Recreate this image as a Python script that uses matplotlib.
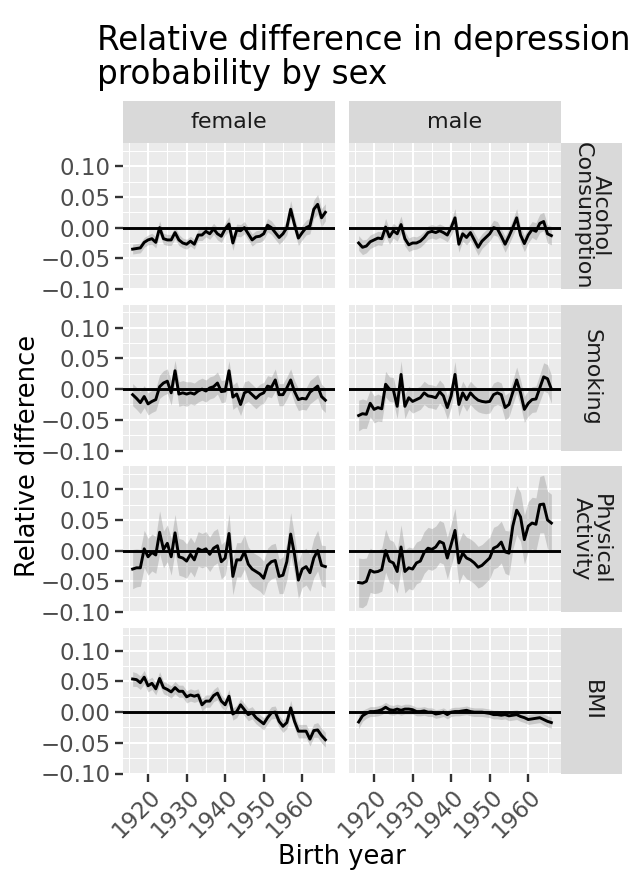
import matplotlib
matplotlib.use("Agg")
import matplotlib.pyplot as plt
from matplotlib.transforms import ScaledTranslation

plt.rcParams["font.family"] = ["DejaVu Sans"]

# birth years 1916..1966
years = list(range(1916, 1967))
sexes = ["female", "male"]
factors = ["Alcohol\nConsumption", "Smoking", "Physical\nActivity", "BMI"]

# Alcohol consumption
alc_f = [-0.035, -0.034, -0.033, -0.024, -0.02, -0.018, -0.024, 0.0, -0.018, -0.02,
         -0.02, -0.008, -0.02, -0.025, -0.027, -0.022, -0.027, -0.012, -0.012, -0.006,
         -0.01, -0.002, -0.01, -0.014, -0.002, 0.006, -0.025, -0.004, -0.005, 0.0,
         -0.01, -0.02, -0.015, -0.014, -0.01, 0.004, 0.0, -0.008, -0.016, -0.01,
         0.0, 0.03, 0.005, -0.017, -0.008, 0.0, 0.003, 0.03, 0.038, 0.016, 0.025]
alc_f_hw = [0.008, 0.008, 0.008, 0.008, 0.008, 0.009, 0.009, 0.011, 0.009, 0.009,
            0.009, 0.01, 0.009, 0.008, 0.008, 0.008, 0.008, 0.009, 0.009, 0.009,
            0.009, 0.009, 0.01, 0.01, 0.01, 0.012, 0.012, 0.01, 0.01, 0.01,
            0.01, 0.01, 0.01, 0.01, 0.01, 0.011, 0.011, 0.011, 0.011, 0.011,
            0.012, 0.014, 0.012, 0.012, 0.012, 0.012, 0.013, 0.015, 0.016, 0.015, 0.014]
alc_m = [-0.025, -0.032, -0.03, -0.023, -0.02, -0.017, -0.018, 0.001, -0.015, -0.005,
         -0.01, 0.005, -0.018, -0.028, -0.025, -0.025, -0.022, -0.016, -0.008, -0.006,
         -0.008, -0.005, -0.008, -0.012, 0.0, 0.016, -0.027, -0.01, -0.016, -0.008,
         -0.02, -0.032, -0.022, -0.016, -0.01, 0.0, -0.002, -0.014, -0.027, -0.014,
         0.0, 0.016, -0.012, -0.026, -0.012, -0.003, -0.006, 0.007, 0.01, -0.01, -0.013]
alc_m_hw = [0.012, 0.012, 0.011, 0.011, 0.011, 0.011, 0.011, 0.014, 0.012, 0.012,
            0.012, 0.014, 0.012, 0.011, 0.011, 0.01, 0.01, 0.01, 0.011, 0.011,
            0.011, 0.011, 0.011, 0.011, 0.012, 0.015, 0.013, 0.012, 0.012, 0.012,
            0.012, 0.013, 0.012, 0.012, 0.012, 0.012, 0.012, 0.012, 0.013, 0.013,
            0.013, 0.015, 0.013, 0.013, 0.013, 0.013, 0.014, 0.015, 0.015, 0.015, 0.015]

# Smoking
smk_f = [-0.009, -0.015, -0.022, -0.012, -0.024, -0.02, -0.017, 0.004, 0.01, 0.013,
         -0.006, 0.03, -0.008, -0.006, -0.008, -0.006, -0.008, -0.003, 0.0, -0.003,
         0.002, 0.004, 0.01, -0.004, -0.003, 0.03, -0.013, -0.008, -0.025, -0.006,
         -0.003, -0.009, -0.015, -0.009, -0.006, 0.005, 0.003, 0.015, -0.009, -0.009,
         0.002, 0.015, -0.004, -0.017, -0.015, -0.016, -0.005, 0.0, 0.005, -0.012, -0.018]
smk_f_hw = [0.018, 0.018, 0.018, 0.018, 0.018, 0.018, 0.018, 0.019, 0.02, 0.02,
            0.02, 0.017, 0.02, 0.02, 0.02, 0.018, 0.018, 0.018, 0.018, 0.018,
            0.018, 0.018, 0.018, 0.018, 0.018, 0.016, 0.02, 0.02, 0.018, 0.018,
            0.017, 0.017, 0.017, 0.017, 0.017, 0.017, 0.017, 0.018, 0.018, 0.018,
            0.018, 0.018, 0.018, 0.018, 0.018, 0.018, 0.019, 0.019, 0.019, 0.02, 0.02]
smk_m = [-0.043, -0.04, -0.041, -0.023, -0.033, -0.03, -0.032, 0.008, 0.0, -0.001,
         -0.028, 0.024, -0.028, -0.014, -0.02, -0.017, -0.014, -0.006, -0.011, -0.012,
         -0.014, -0.004, -0.011, -0.03, -0.011, 0.024, -0.025, -0.006, -0.017, -0.006,
         -0.013, -0.018, -0.02, -0.021, -0.02, -0.009, -0.006, -0.009, -0.03, -0.025,
         -0.005, 0.015, -0.006, -0.033, -0.023, -0.017, -0.016, 0.002, 0.02, 0.017, 0.0]
smk_m_hw = [0.025, 0.024, 0.023, 0.022, 0.022, 0.022, 0.021, 0.021, 0.02, 0.02,
            0.02, 0.022, 0.02, 0.019, 0.019, 0.019, 0.019, 0.019, 0.019, 0.019,
            0.019, 0.019, 0.019, 0.019, 0.019, 0.021, 0.019, 0.019, 0.019, 0.019,
            0.019, 0.019, 0.019, 0.019, 0.019, 0.019, 0.019, 0.019, 0.02, 0.02,
            0.02, 0.021, 0.021, 0.021, 0.021, 0.021, 0.021, 0.022, 0.023, 0.023, 0.023]

# Physical activity
pa_f = [-0.03, -0.028, -0.028, 0.003, -0.01, -0.003, -0.007, 0.03, 0.002, 0.012,
        -0.01, 0.029, -0.01, -0.012, -0.017, -0.006, -0.015, 0.003, 0.0, 0.003,
        -0.006, 0.004, 0.008, -0.018, -0.012, 0.028, -0.042, -0.015, -0.015, -0.002,
        -0.022, -0.03, -0.034, -0.038, -0.045, -0.024, -0.018, -0.016, -0.042, -0.04,
        -0.018, 0.027, -0.006, -0.048, -0.03, -0.026, -0.036, -0.012, 0.0, -0.024, -0.026]
pa_f_hw = [0.032, 0.031, 0.03, 0.03, 0.03, 0.03, 0.03, 0.035, 0.03, 0.03,
           0.03, 0.03, 0.03, 0.03, 0.028, 0.028, 0.028, 0.028, 0.028, 0.028,
           0.028, 0.028, 0.028, 0.028, 0.028, 0.032, 0.03, 0.028, 0.028, 0.028,
           0.028, 0.028, 0.028, 0.028, 0.028, 0.028, 0.028, 0.028, 0.028, 0.03,
           0.03, 0.035, 0.03, 0.03, 0.03, 0.03, 0.03, 0.032, 0.033, 0.033, 0.034]
pa_m = [-0.052, -0.053, -0.05, -0.032, -0.035, -0.034, -0.031, 0.0, -0.017, -0.02,
        -0.034, 0.006, -0.034, -0.028, -0.03, -0.02, -0.017, -0.003, 0.004, 0.002,
        0.006, 0.015, 0.012, -0.012, 0.01, 0.033, -0.02, -0.004, -0.012, -0.015,
        -0.02, -0.027, -0.024, -0.018, -0.012, 0.004, 0.007, 0.014, -0.002, -0.004,
        0.04, 0.066, 0.055, 0.018, 0.04, 0.045, 0.043, 0.075, 0.076, 0.05, 0.045]
pa_m_hw = [0.04, 0.04, 0.038, 0.036, 0.035, 0.035, 0.035, 0.035, 0.035, 0.035,
           0.035, 0.036, 0.035, 0.034, 0.034, 0.034, 0.034, 0.034, 0.034, 0.034,
           0.034, 0.034, 0.034, 0.034, 0.034, 0.036, 0.034, 0.034, 0.034, 0.034,
           0.034, 0.034, 0.034, 0.034, 0.034, 0.034, 0.034, 0.034, 0.035, 0.036,
           0.038, 0.04, 0.04, 0.04, 0.04, 0.042, 0.043, 0.046, 0.047, 0.047, 0.047]

# BMI
bmi_f = [0.054, 0.053, 0.048, 0.057, 0.043, 0.047, 0.038, 0.055, 0.04, 0.037,
         0.033, 0.04, 0.034, 0.034, 0.025, 0.028, 0.026, 0.028, 0.012, 0.018,
         0.018, 0.027, 0.031, 0.018, 0.012, 0.026, -0.003, 0.001, 0.012, 0.004,
         -0.004, -0.001, -0.009, -0.014, -0.019, -0.009, -0.001, 0.0, -0.015, -0.023,
         -0.017, 0.007, -0.015, -0.031, -0.031, -0.031, -0.044, -0.03, -0.029, -0.038, -0.045]
bmi_f_hw = [0.012, 0.011, 0.011, 0.011, 0.01, 0.01, 0.01, 0.011, 0.01, 0.01,
            0.01, 0.01, 0.01, 0.01, 0.01, 0.01, 0.01, 0.01, 0.01, 0.01,
            0.01, 0.01, 0.011, 0.01, 0.01, 0.011, 0.01, 0.01, 0.01, 0.01,
            0.01, 0.01, 0.01, 0.01, 0.01, 0.01, 0.01, 0.01, 0.01, 0.01,
            0.01, 0.012, 0.011, 0.011, 0.011, 0.011, 0.011, 0.011, 0.012, 0.012, 0.012]
bmi_m = [-0.016, -0.006, -0.002, 0.001, 0.001, 0.002, 0.004, 0.008, 0.004, 0.003,
         0.005, 0.003, 0.005, 0.005, 0.004, 0.001, 0.001, 0.002, 0.0, 0.0,
         -0.003, -0.002, 0.0, -0.004, 0.0, 0.001, 0.001, 0.002, 0.003, 0.001,
         0.0, 0.0, 0.0, -0.001, -0.002, -0.004, -0.004, -0.005, -0.004, -0.006,
         -0.005, -0.004, -0.007, -0.009, -0.012, -0.011, -0.01, -0.009, -0.012, -0.015, -0.017]
bmi_m_hw = [0.011, 0.009, 0.008, 0.008, 0.008, 0.008, 0.008, 0.008, 0.008, 0.008,
            0.008, 0.008, 0.008, 0.008, 0.007, 0.007, 0.007, 0.007, 0.007, 0.007,
            0.007, 0.007, 0.007, 0.007, 0.007, 0.007, 0.007, 0.007, 0.007, 0.007,
            0.007, 0.007, 0.007, 0.007, 0.007, 0.007, 0.007, 0.007, 0.007, 0.008,
            0.008, 0.008, 0.008, 0.008, 0.008, 0.008, 0.008, 0.008, 0.009, 0.009, 0.009]

series = [[(alc_f, alc_f_hw), (alc_m, alc_m_hw)],
          [(smk_f, smk_f_hw), (smk_m, smk_m_hw)],
          [(pa_f, pa_f_hw), (pa_m, pa_m_hw)],
          [(bmi_f, bmi_f_hw), (bmi_m, bmi_m_hw)]]

y_ticks = [-0.10, -0.05, 0.0, 0.05, 0.10]
y_labels = ["\u22120.10", "\u22120.05", "0.00", "0.05", "0.10"]
y_minor = [-0.075, -0.025, 0.025, 0.075, 0.125]
x_ticks = [1920, 1930, 1940, 1950, 1960]
x_minor = [1915, 1925, 1935, 1945, 1955, 1965]

W, H = 633, 875
fig = plt.figure(figsize=(W / 100, H / 100), dpi=100)


def rect(x0, y0, w, h):
    return [x0 / W, 1 - (y0 + h) / H, w / W, h / H]


col_x = [123, 349]
pan_w = 212
row_y = [143, 304.5, 466, 627.5]
pan_h = 146
panel_bg = "#EBEBEB"
strip_bg = "#D9D9D9"

for r in range(4):
    for c in range(2):
        ax = fig.add_axes(rect(col_x[c], row_y[r], pan_w, pan_h))
        ax.set_facecolor(panel_bg)
        for s in ax.spines.values():
            s.set_visible(False)
        vals, hw = series[r][c]
        lo = [v - h for v, h in zip(vals, hw)]
        hi = [v + h for v, h in zip(vals, hw)]
        ax.fill_between(years, lo, hi, color="grey", alpha=0.32, lw=0)
        ax.axhline(0, color="black", lw=2.1)
        ax.plot(years, vals, color="black", lw=2.1)
        ax.set_xlim(1913.5, 1968.5)
        ax.set_ylim(-0.099, 0.138)
        ax.set_xticks(x_ticks)
        ax.set_xticks(x_minor, minor=True)
        ax.set_yticks(y_ticks)
        ax.set_yticks(y_minor, minor=True)
        ax.set_axisbelow(True)
        ax.grid(which="major", color="white", lw=1.5)
        ax.grid(which="minor", color="white", lw=0.75)
        ax.tick_params(which="minor", length=0)
        ax.tick_params(which="major", color="#333333", width=1.7, length=5.5,
                       labelsize=16.5, labelcolor="#4D4D4D", pad=3.5)
        if c == 0:
            ax.set_yticklabels(y_labels)
        else:
            ax.tick_params(axis="y", length=0, labelleft=False)
        if r == 3:
            ax.tick_params(axis="x", pad=8.5)
            ax.set_xticklabels([str(t) for t in x_ticks], rotation=45,
                               ha="right", va="center", rotation_mode="anchor")
            shift = ScaledTranslation(9 / 100, 0, fig.dpi_scale_trans)
            for lab in ax.get_xticklabels():
                lab.set_transform(lab.get_transform() + shift)
        else:
            ax.tick_params(axis="x", length=0, labelbottom=False)

# top strips
for c in range(2):
    sa = fig.add_axes(rect(col_x[c], 101, pan_w, 42))
    sa.set_facecolor(strip_bg)
    sa.set_xticks([])
    sa.set_yticks([])
    for s in sa.spines.values():
        s.set_visible(False)
    sa.text(0.5, 0.5, sexes[c], ha="center", va="center", fontsize=16,
            color="#1A1A1A", transform=sa.transAxes)

# right strips
for r in range(4):
    sa = fig.add_axes(rect(561, row_y[r], 61, pan_h))
    sa.set_facecolor(strip_bg)
    sa.set_xticks([])
    sa.set_yticks([])
    for s in sa.spines.values():
        s.set_visible(False)
    sa.text(0.5, 0.5, factors[r], ha="center", va="center", fontsize=16,
            color="#1A1A1A", rotation=-90, linespacing=0.9,
            transform=sa.transAxes)

fig.text(97 / W, 1 - 50 / H, "Relative difference in depression",
         fontsize=23.5, va="baseline", ha="left")
fig.text(97 / W, 1 - 84 / H, "probability by sex",
         fontsize=23.5, va="baseline", ha="left")
fig.text(28 / W, 1 - 456 / H, "Relative difference", rotation=90,
         fontsize=18.5, ha="center", va="center")
fig.text(342 / W, 1 - 864 / H, "Birth year", fontsize=18.5,
         ha="center", va="baseline")

fig.savefig("out.png", dpi=100)
